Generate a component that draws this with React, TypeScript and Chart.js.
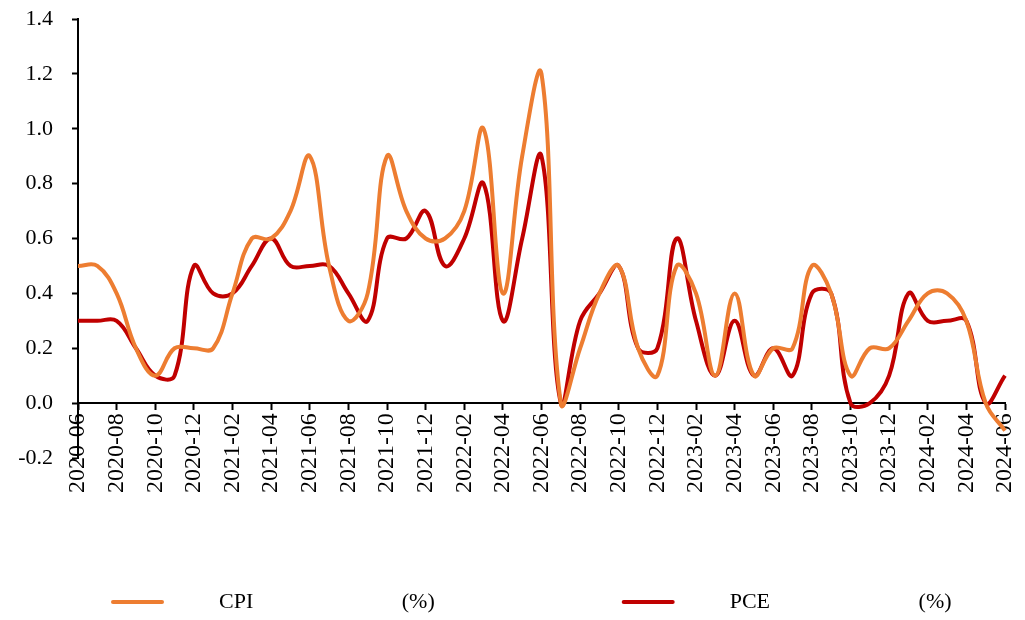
import { useEffect, useRef } from 'react';
import { Chart, registerables } from 'chart.js';

Chart.register(...registerables);

const months = [
  '2020-06', '2020-07', '2020-08', '2020-09', '2020-10', '2020-11', '2020-12',
  '2021-01', '2021-02', '2021-03', '2021-04', '2021-05', '2021-06',
  '2021-07', '2021-08', '2021-09', '2021-10', '2021-11', '2021-12',
  '2022-01', '2022-02', '2022-03', '2022-04', '2022-05', '2022-06',
  '2022-07', '2022-08', '2022-09', '2022-10', '2022-11', '2022-12',
  '2023-01', '2023-02', '2023-03', '2023-04', '2023-05', '2023-06',
  '2023-07', '2023-08', '2023-09', '2023-10', '2023-11', '2023-12',
  '2024-01', '2024-02', '2024-03', '2024-04', '2024-05', '2024-06',
];

const cpiValues = [
  0.5, 0.5, 0.4, 0.2, 0.1, 0.2, 0.2,
  0.2, 0.4, 0.6, 0.6, 0.7, 0.9,
  0.5, 0.3, 0.4, 0.9, 0.7, 0.6,
  0.6, 0.7, 1.0, 0.4, 0.9, 1.2,
  0.0, 0.2, 0.4, 0.5, 0.2, 0.1,
  0.5, 0.4, 0.1, 0.4, 0.1, 0.2,
  0.2, 0.5, 0.4, 0.1, 0.2, 0.2,
  0.3, 0.4, 0.4, 0.3, 0.0, -0.1,
];

const pceValues = [
  0.3, 0.3, 0.3, 0.2, 0.1, 0.1, 0.5,
  0.4, 0.4, 0.5, 0.6, 0.5, 0.5,
  0.5, 0.4, 0.3, 0.6, 0.6, 0.7,
  0.5, 0.6, 0.8, 0.3, 0.6, 0.9,
  0.0, 0.3, 0.4, 0.5, 0.2, 0.2,
  0.6, 0.3, 0.1, 0.3, 0.1, 0.2,
  0.1, 0.4, 0.4, 0.0, 0.0, 0.1,
  0.4, 0.3, 0.3, 0.3, 0.0, 0.1,
];

const seriesNames = ['CPI', 'PCE'];
const seriesUnit = '(%)';
const seriesColors = ['#ED7D31', '#C00000'];
const yMin = -0.2;
const yMax = 1.4;
const yStep = 0.2;

const FONT = '"Liberation Serif", "Times New Roman", serif';
const FS = 22;
const XFS = 24;
const W = 1025;
const H = 620;

const sp = (n: number) => ' '.repeat(n);

export default function App() {
  const ref = useRef<HTMLCanvasElement>(null);

  useEffect(() => {
    const canvas = ref.current;
    if (!canvas) return;

    // layout targets
    const plotLeft = 78;
    const plotRight = 1005;
    const plotTop = 19;
    const plotBottom = 458;
    const item1X = 111;
    const item2X = 620;
    const legendTextY = 602;
    const boxW = 53;
    const gap = item1X - plotLeft;

    const mctx = document.createElement('canvas').getContext('2d')!;
    mctx.font = `${FS}px ${FONT}`;
    const base1 = sp(8) + seriesNames[0] + sp(27) + seriesUnit;
    const base2 = sp(8) + seriesNames[1] + sp(27) + seriesUnit;
    const spaceW = mctx.measureText(' ').width || FS / 4;
    const need1 = item2X - item1X - gap - boxW - FS / 2 - mctx.measureText(base1).width;
    const t1 = base1 + sp(Math.max(0, Math.round(need1 / spaceW)));
    const t2 = base2;
    const titleLH = 10;
    const titlePadTop = legendTextY - plotBottom - FS / 2 - gap - titleLH;

    const legendTexts = [t1, t2];

    const chart = new Chart(canvas, {
      type: 'line',
      data: {
        labels: months,
        datasets: seriesNames.map((name, i) => ({
          label: name,
          data: i === 0 ? cpiValues : pceValues,
          borderColor: seriesColors[i],
          backgroundColor: seriesColors[i],
          borderWidth: 4,
          pointRadius: 0,
          tension: 0.4,
          fill: false,
        })),
      },
      options: {
        animation: false,
        responsive: false,
        devicePixelRatio: 1,
        layout: { padding: { left: 0, right: W - plotRight, top: plotTop, bottom: 0 } },
        plugins: {
          tooltip: { enabled: false },
          legend: {
            position: 'bottom',
            align: 'start',
            fullSize: false,
            maxHeight: H - plotBottom,
            title: {
              display: true,
              text: ' ',
              font: { size: 10, lineHeight: 1 },
              padding: { top: titlePadTop, bottom: 0 },
            },
            labels: {
              boxWidth: boxW,
              boxHeight: 4,
              padding: gap,
              color: '#000',
              font: { family: FONT, size: FS },
              generateLabels: () =>
                seriesNames.map((_, i) => ({
                  text: legendTexts[i],
                  fillStyle: seriesColors[i],
                  strokeStyle: seriesColors[i],
                  lineWidth: 0,
                  borderRadius: 2,
                  hidden: false,
                  datasetIndex: i,
                  fontColor: '#000',
                })),
            },
          },
        },
        scales: {
          x: {
            type: 'category',
            position: { y: 0 },
            offset: false,
            grid: {
              display: true,
              drawOnChartArea: false,
              drawTicks: true,
              tickLength: 6,
              tickWidth: 2,
              tickColor: (c: any) => (c.index % 2 === 0 ? '#000' : 'rgba(0,0,0,0)'),
            },
            border: { display: true, color: '#000', width: 2 },
            ticks: {
              autoSkip: false,
              minRotation: 90,
              maxRotation: 90,
              padding: 4,
              color: '#000',
              font: { family: FONT, size: XFS },
              callback: (_v: any, i: number) => (i % 2 === 0 ? months[i] : ''),
            },
            afterFit: (s: any) => {
              s.paddingLeft = 0;
              s.paddingRight = 0;
            },
          },
          y: {
            type: 'linear',
            min: yMin,
            max: yMax,
            grid: {
              display: true,
              drawOnChartArea: false,
              drawTicks: true,
              tickLength: 6,
              tickWidth: 2,
              tickColor: '#000',
            },
            border: { display: true, color: '#000', width: 2 },
            ticks: {
              stepSize: yStep,
              padding: 19,
              color: '#000',
              font: { family: FONT, size: FS },
              callback: (v: any) => {
                const n = Number(v);
                return (Math.abs(n) < 1e-9 ? 0 : n).toFixed(1);
              },
            },
            afterFit: (s: any) => {
              s.width = plotLeft;
              s.paddingTop = 0;
              s.paddingBottom = 0;
            },
          },
        },
      },
    } as any);

    return () => chart.destroy();
  }, []);

  return (
    <div style={{ position: 'fixed', left: 0, top: 0, width: W, height: H, background: '#fff' }}>
      <canvas ref={ref} width={W} height={H} style={{ display: 'block', width: W, height: H }} />
    </div>
  );
}
